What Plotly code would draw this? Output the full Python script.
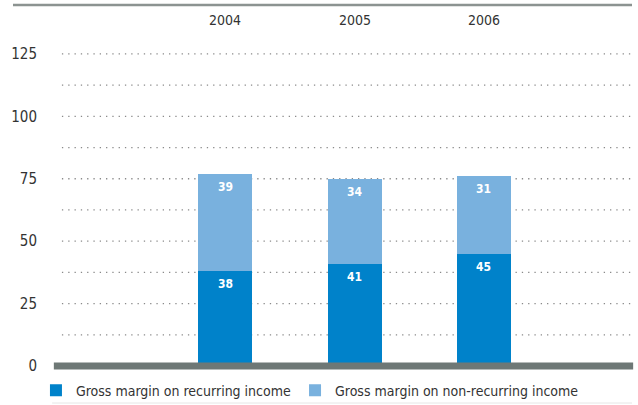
import plotly.graph_objects as go

# Gross margin by year (stacked)
years = ["2004", "2005", "2006"]
recurring = [38, 41, 45]
non_recurring = [39, 34, 31]
series_names = ["Gross margin on recurring income", "Gross margin on non-recurring income"]
y_ticks = [0, 25, 50, 75, 100, 125]
grid_step = 12.5

dark_blue = "#0082CA"
light_blue = "#79B1DE"
text_color = "#333333"
font_family = "DejaVu Sans Condensed, Liberation Sans Narrow, Liberation Sans, sans-serif"

fig = go.Figure()
fig.add_trace(go.Bar(x=years, y=recurring, name=series_names[0], legend="legend",
                     marker=dict(color=dark_blue, line=dict(width=0)), width=0.417))
fig.add_trace(go.Bar(x=years, y=non_recurring, name=series_names[1], legend="legend2",
                     marker=dict(color=light_blue, line=dict(width=0)), width=0.417))

shapes = []
# dotted grid every 12.5 units
g = grid_step
while g <= y_ticks[-1] + 0.01:
    shapes.append(dict(type="line", xref="paper", yref="y", x0=0.012, x1=1, y0=g, y1=g,
                       line=dict(color="#8a8a8a", width=1.3, dash="1.3px,5px"), layer="below"))
    g += grid_step
# top rule
shapes.append(dict(type="line", xref="paper", yref="paper", x0=-0.0728, x1=1, y0=1, y1=1,
                   line=dict(color="#8c9391", width=2.5), layer="above"))
# heavy baseline
shapes.append(dict(type="line", xref="paper", yref="paper", x0=-0.002, x1=1.002, y0=0, y1=0,
                   line=dict(color="#6e7876", width=7), layer="above"))
# faint bottom rule
shapes.append(dict(type="line", xref="paper", yref="paper", x0=-0.005, x1=1, y0=-0.1025, y1=-0.1025,
                   line=dict(color="#e6e6e6", width=1), layer="above"))

annotations = []
# year labels across the top (category positions by index)
for i, yr in enumerate(years):
    annotations.append(dict(x=i, y=1, xref="x", yref="paper", text=yr, showarrow=False,
                            yanchor="middle", yshift=-15,
                            font=dict(family=font_family, size=14, color=text_color)))
# value labels near the top of each segment
for i, (r, n) in enumerate(zip(recurring, non_recurring)):
    annotations.append(dict(x=i, y=r, xref="x", yref="y", text=f"<b>{r}</b>", showarrow=False,
                            yanchor="middle", yshift=-13,
                            font=dict(family=font_family, size=12, color="white")))
    annotations.append(dict(x=i, y=r + n, xref="x", yref="y", text=f"<b>{n}</b>", showarrow=False,
                            yanchor="middle", yshift=-13,
                            font=dict(family=font_family, size=12, color="white")))

legend_style = dict(orientation="h", y=-0.024, xanchor="left", yanchor="top",
                    font=dict(family=font_family, size=14, color=text_color),
                    itemwidth=30, bgcolor="rgba(0,0,0,0)")

fig.update_layout(
    width=638, height=405,
    margin=dict(l=55, r=6, t=5, b=39, autoexpand=False),
    paper_bgcolor="white", plot_bgcolor="white",
    barmode="stack",
    bargap=0,
    showlegend=True,
    legend=dict(x=-0.033, **legend_style),
    legend2=dict(x=0.416, **legend_style),
    xaxis=dict(type="category", range=[-1.313, 3.143], showticklabels=False,
               showgrid=False, zeroline=False, showline=False, ticks=""),
    yaxis=dict(range=[0, 144.6], tickvals=y_ticks, showgrid=False, zeroline=False,
               showline=False, ticks="outside", ticklen=14, tickcolor="rgba(0,0,0,0)",
               tickfont=dict(family=font_family, size=15, color=text_color)),
    shapes=shapes,
    annotations=annotations,
)

fig.write_html("out.html")
